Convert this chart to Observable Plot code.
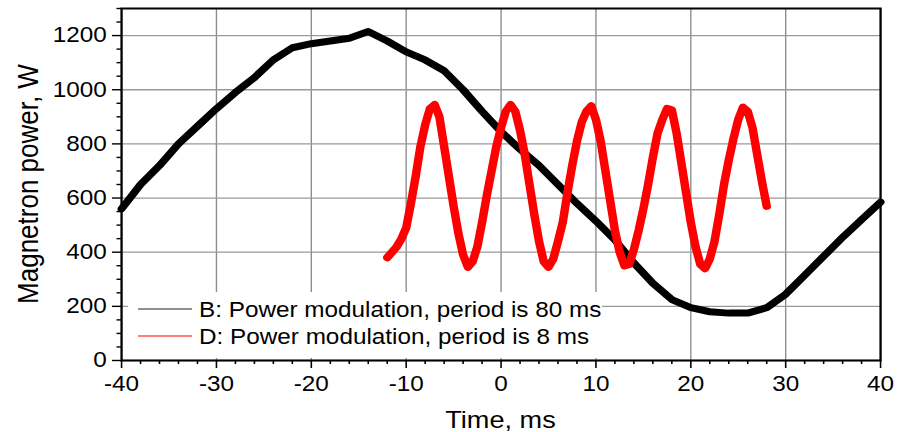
<!DOCTYPE html>
<html><head><meta charset="utf-8">
<script src="https://cdn.jsdelivr.net/npm/d3@7"></script>
<script src="https://cdn.jsdelivr.net/npm/@observablehq/plot@0.6"></script>
<style>
body{margin:0;background:#fff;}
#chart svg{font-family:"Liberation Sans",Arial,sans-serif;background:#fff;display:block;}
</style></head><body><div id="chart"></div>
<script>
// Series B: 80 ms period (black)
const timeB = [-40,-38,-36,-34,-32,-30,-28,-26,-24,-22,-20,-18,-16,-14,-12,-10,-8,-6,-4,-2,0,2,4,6,8,10,12,14,16,18,20,22,24,26,28,30,32,34,36,38,40];
const powerB = [560,650,720,800,865,930,990,1045,1110,1155,1170,1180,1190,1215,1180,1140,1110,1070,1000,920,845,780,720,650,580,515,445,360,285,225,195,180,175,175,195,245,315,385,455,520,585];
// Series D: 8 ms period (red)
const timeD = [-12,-11.5,-11,-10.5,-10,-9.5,-9,-8.5,-8,-7.5,-7,-6.5,-6,-5.5,-5,-4.5,-4,-3.5,-3,-2.5,-2,-1.5,-1,-0.5,0,0.5,1,1.5,2,2.5,3,3.5,4,4.5,5,5.5,6,6.5,7,7.5,8,8.5,9,9.5,10,10.5,11,11.5,12,12.5,13,13.5,14,14.5,15,15.5,16,16.5,17,17.5,18,18.5,19,19.5,20,20.5,21,21.5,22,22.5,23,23.5,24,24.5,25,25.5,26,26.5,27,27.5,28];
const powerD = [380,400,420,450,490,580,680,790,870,930,945,900,790,680,570,470,390,345,365,420,510,610,700,790,860,920,945,920,850,760,650,540,440,365,345,375,440,510,620,720,810,880,920,940,890,810,700,590,480,400,350,355,410,480,560,650,750,840,890,930,925,840,730,620,510,420,355,340,375,440,540,650,740,820,890,935,920,860,760,660,570];

const xTicks = [-40,-30,-20,-10,0,10,20,30,40];
const xMinor = [-38,-36,-34,-32,-28,-26,-24,-22,-18,-16,-14,-12,-8,-6,-4,-2,2,4,6,8,12,14,16,18,22,24,26,28,32,34,36,38];
const yTicks = [0,200,400,600,800,1000,1200];
const yMinor = [50,100,150,250,300,350,450,500,550,650,700,750,850,900,950,1050,1100,1150,1250,1300];
const seriesLabels = ["B: Power modulation, period is 80 ms","D: Power modulation, period is 8 ms"];
const seriesColors = ["#000000","#ff0000"];
const xTitle = "Time, ms";
const yTitle = "Magnetron power, W";

const dataB = timeB.map((t,i)=>({t, p: powerB[i]}));
const dataD = timeD.map((t,i)=>({t, p: powerD[i]}));

// The reference is horizontally stretched; draw in a narrower coordinate space and stretch the SVG.
const S = 1.13;
const W = 905, H = 432;
const Wp = W / S;
const px = v => v / S; // page x -> plot x
const mL = px(121), mR = px(25), mT = 8, mB = 72;
const fmt = d => String(d);
const plot = Plot.plot({
  width: Wp, height: H,
  marginLeft: mL, marginRight: mR, marginTop: mT, marginBottom: mB,
  x: {domain: [-40, 40]},
  y: {domain: [0, 1300]},
  style: {fontFamily: '"Liberation Sans", Arial, sans-serif', fontSize: "21.5px", color: "#000", background: "#fff"},
  marks: [
    Plot.gridX(xTicks, {stroke: "#8c8c8c", strokeOpacity: 1, strokeWidth: 1.2}),
    Plot.gridY(yTicks, {stroke: "#9a9a9a", strokeOpacity: 1, strokeWidth: 1.3}),
    Plot.line(dataB, {x: "t", y: "p", stroke: seriesColors[0], strokeWidth: 7, strokeLinejoin: "round"}),
    Plot.line(dataD, {x: "t", y: "p", stroke: seriesColors[1], strokeWidth: 7.5, strokeLinejoin: "round"}),
    Plot.axisX(xMinor, {tickSize: 4, tickFormat: () => "", label: null, stroke: "#000", strokeWidth: 1.4}),
    Plot.axisX(xTicks, {tickSize: 8, tickPadding: 7, tickFormat: fmt, label: null, stroke: "#000", strokeWidth: 1.4, fontSize: 21.5}),
    Plot.axisY(yMinor, {tickSize: 4, tickFormat: () => "", label: null, stroke: "#000", strokeWidth: 1.4}),
    Plot.axisY(yTicks, {tickSize: 8, tickPadding: 5, tickFormat: fmt, label: null, stroke: "#000", strokeWidth: 1.4, fontSize: 21.5}),
    Plot.frame({stroke: "#000", strokeWidth: 2})
  ]
});
plot.setAttribute("viewBox", `0 0 ${Wp} ${H}`);
plot.setAttribute("width", W);
plot.setAttribute("height", H);
plot.setAttribute("preserveAspectRatio", "none");
document.getElementById("chart").appendChild(plot);
const svg = d3.select(plot);

// Legend (white box over grid, beneath data)
const firstLine = plot.querySelector('g[aria-label="line"]');
const leg = d3.create("svg:g").attr("class", "legend-bg");
leg.append("rect").attr("x", px(128)).attr("y", 292).attr("width", px(474)).attr("height", 66).attr("fill", "#fff");
plot.insertBefore(leg.node(), firstLine);
const legTop = d3.create("svg:g").attr("class", "legend").attr("text-anchor", "start");
seriesLabels.forEach((lab, i) => {
  const cy = 309 + i * 27;
  legTop.append("line").attr("x1", px(138)).attr("x2", px(192)).attr("y1", cy).attr("y2", cy)
    .attr("stroke", i === 0 ? "#222" : seriesColors[1]).attr("stroke-width", 1.2);
  legTop.append("text").attr("x", px(199)).attr("y", cy + 8).attr("text-anchor", "start")
    .attr("font-size", 21.5).attr("fill", "#000").text(lab);
});
plot.appendChild(legTop.node());

// Axis titles
svg.append("text").attr("x", (mL + Wp - mR) / 2).attr("y", 428).attr("text-anchor", "middle")
  .attr("font-size", 24).attr("fill", "#000").text(xTitle);
svg.append("text").attr("transform", `translate(${px(38)},${(mT + H - mB) / 2}) rotate(-90)`)
  .attr("text-anchor", "middle").attr("font-size", 26).attr("fill", "#000").text(yTitle);
</script></body></html>
